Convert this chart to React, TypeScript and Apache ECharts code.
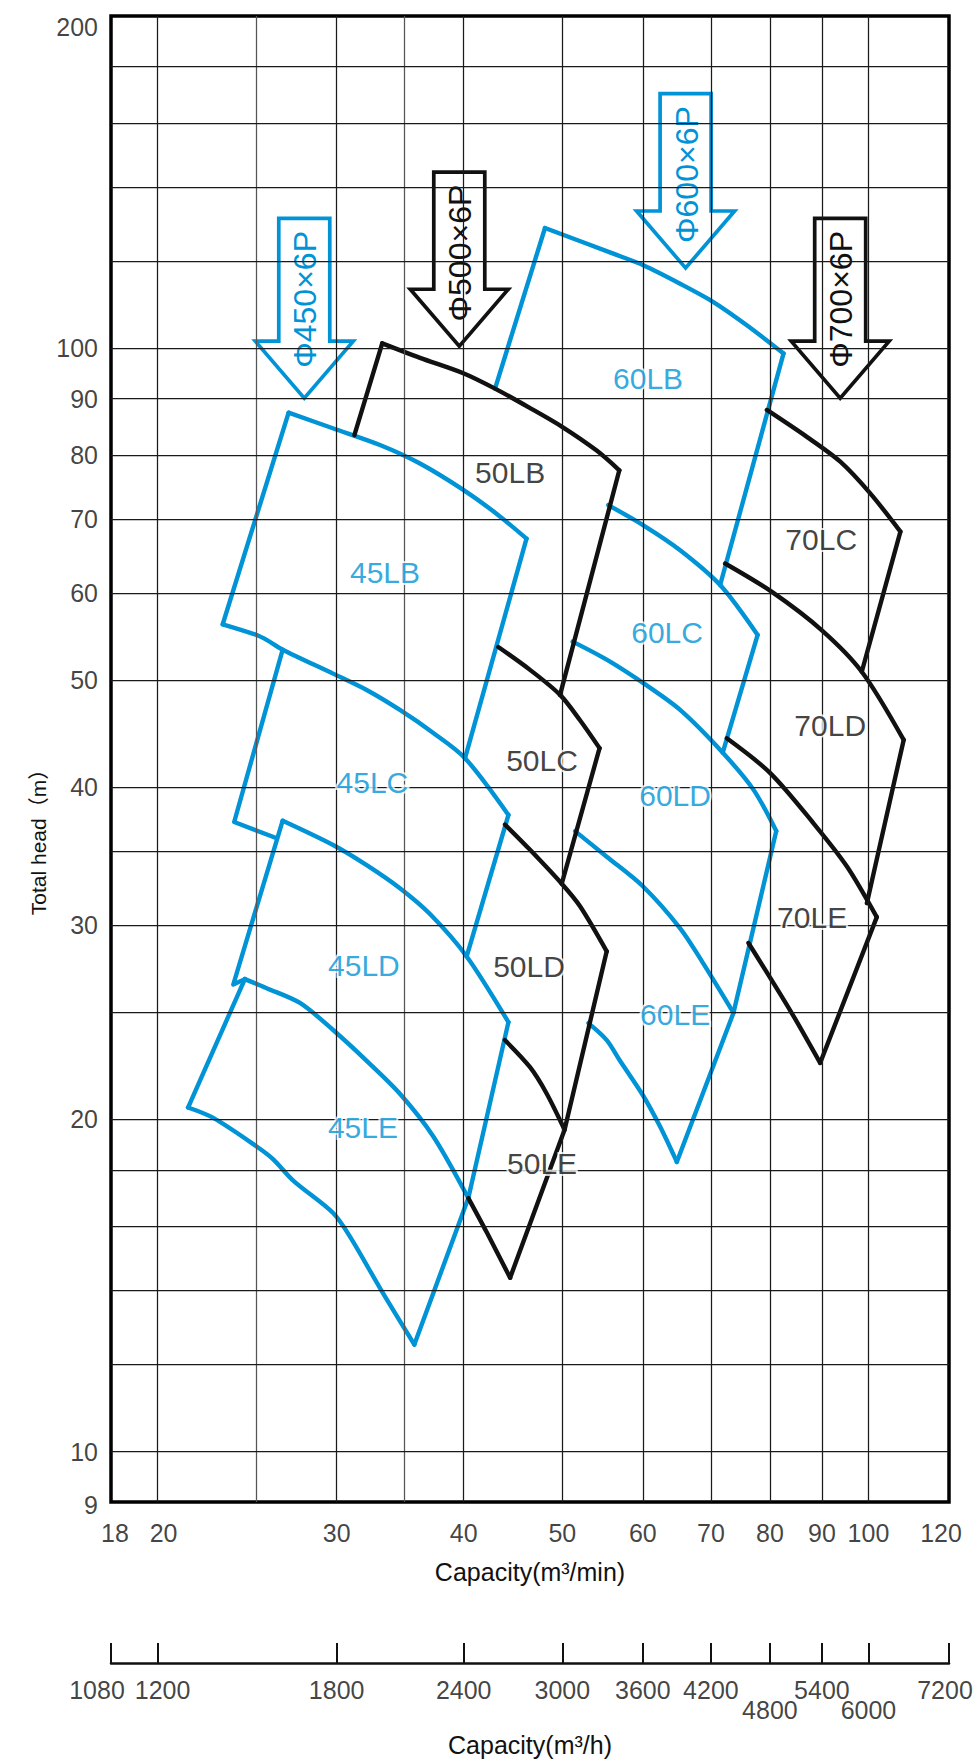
import React, { useEffect, useRef } from 'react';
import * as echarts from 'echarts';

const BLUE = '#0093d6';
const BLACK = '#111111';
const FONT = '"Liberation Sans", Arial, Helvetica, "Noto Sans CJK JP", sans-serif';

// ---- axis values ----
const xTickLabels = [18, 20, 30, 40, 50, 60, 70, 80, 90, 100, 120];
const yTickLabels = [9, 10, 20, 30, 40, 50, 60, 70, 80, 90, 100, 200];
const xGridValues = [20, 25, 30, 35, 40, 50, 60, 70, 80, 90, 100];
const yGridValues = [10, 12, 14, 16, 18, 20, 25, 30, 35, 40, 50, 60, 70, 80, 90, 100, 120, 140, 160, 180];
const hourTickLabels = [1080, 1200, 1800, 2400, 3000, 3600, 4200, 4800, 5400, 6000, 7200];

// ---- 45 series (blue) [capacity m3/min, head m] ----
// head-capacity curves
const c45LBTop = [[26.91, 87.4], [29.74, 84.6], [33.09, 81.7], [36.23, 78.6], [39.96, 74.4], [43.11, 70.75], [46.11, 67.2]];
const c45LCTop = [[23.18, 56.2], [25.03, 54.96], [25.6, 54.4], [26.55, 53.3], [29.76, 50.7], [32.11, 49.0], [34.62, 47.0], [37.34, 44.8], [40.12, 42.5], [44.26, 37.75]];
const c45LDTop = [[26.55, 37.3], [29.76, 35.46], [32.11, 34.0], [34.62, 32.4], [37.06, 30.7], [40.27, 28.1], [44.26, 24.5]];
const c45LETop = [[24.37, 26.8], [25.6, 26.3], [27.61, 25.5], [29.76, 24.1], [32.11, 22.6], [34.62, 21.1], [37.34, 19.3], [40.42, 16.97]];
const c45LEBottom = [[21.43, 20.5], [22.69, 20.06], [25.03, 18.9], [25.99, 18.4], [27.19, 17.6], [29.76, 16.45], [30.92, 15.66], [33.34, 13.9], [35.77, 12.5]];
// boundary lines
const s45LBLeft = [[23.18, 56.2], [26.91, 87.4]];
const s45LBRight = [[46.11, 67.2], [40.12, 42.5]];
const s45LCRight = [[44.26, 37.75], [40.27, 28.1]];
const s45LCLeft = [[26.55, 53.3], [23.79, 37.2], [26.2, 35.96]];
const s45LDLeft = [[24.37, 26.8], [23.74, 26.5], [26.55, 37.3]];
const s45LDRight = [[44.26, 24.5], [40.42, 16.97], [35.77, 12.5]];
const s45LELeft = [[24.37, 26.8], [21.43, 20.5]];

// ---- 50 series (black) ----
const c50LBTop = [[33.26, 101.0], [36.23, 98.0], [39.96, 94.9], [42.94, 91.9], [46.48, 88.25], [49.94, 84.9], [54.05, 80.75], [56.89, 77.5]];
const c50LCTop = [[43.26, 53.6], [46.48, 51.1], [49.75, 48.5], [52.05, 46.0], [54.4, 43.4]];
const c50LDTop = [[43.92, 37.0], [46.48, 35.1], [49.94, 32.7], [52.05, 31.2], [55.29, 28.4]];
const c50LETop = [[43.9, 23.6], [46.48, 22.3], [48.27, 21.1], [50.26, 19.57]];
const c50LEBottom = [[40.42, 16.97], [42.14, 15.8], [44.43, 14.37]];
const s50LBLeft = [[31.23, 83.4], [33.26, 101.0]];
const s50LBRight = [[56.89, 77.5], [49.75, 48.5]];
const s50LCRight = [[54.4, 43.4], [49.94, 32.7]];
const s50LDRight = [[55.29, 28.4], [50.26, 19.57], [44.43, 14.37]];

// ---- 60 series (blue) ----
const c60LBTop = [[48.08, 128.5], [56.12, 121.8], [60.07, 118.9], [65.29, 114.4], [70.4, 110.1], [75.93, 104.9], [82.51, 98.9]];
const c60LCTop = [[55.49, 72.06], [60.07, 69.1], [65.29, 65.6], [71.48, 61.0], [77.81, 54.96]];
const c60LDTop = [[51.18, 54.2], [55.29, 52.2], [60.07, 49.7], [65.29, 47.0], [71.8, 43.05], [77.07, 39.8], [81.16, 36.5]];
const c60LETop = [[51.47, 36.5], [55.29, 34.6], [60.07, 32.5], [65.29, 29.8], [68.62, 27.8], [73.67, 24.98]];
const c60LEBottom = [[53.04, 24.45], [55.29, 23.6], [56.98, 22.6], [60.07, 21.0], [62.39, 19.7], [64.8, 18.3]];
const s60LBLeft = [[42.94, 91.9], [48.08, 128.5]];
const s60LBRight = [[82.51, 98.9], [71.48, 61.0]];
const s60LCRight = [[77.81, 54.96], [71.9, 43.0]];
const s60LDRight = [[81.16, 36.5], [73.67, 24.98], [64.8, 18.3]];

// ---- 70 series (black) ----
const c70LCTop = [[79.45, 87.9], [86.98, 83.1], [93.82, 78.9], [100.4, 73.85], [107.5, 68.2]];
const c70LDTop = [[72.29, 63.8], [80.43, 60.1], [89.99, 55.5], [98.5, 50.9], [108.3, 44.15]];
const c70LETop = [[72.57, 44.3], [80.06, 41.2], [88.3, 37.1], [95.25, 33.9], [101.9, 30.5]];
const c70LEBottom = [[76.21, 28.9], [83.77, 25.1], [89.64, 22.5]];
const s70LCRight = [[107.5, 68.2], [98.5, 50.9]];
const s70LDRight = [[108.3, 44.15], [99.64, 31.4]];
const s70LERight = [[101.9, 30.5], [89.64, 22.5]];

// ---- region labels ----
const regionNames = ['45LB', '45LC', '45LD', '45LE', '50LB', '50LC', '50LD', '50LE', '60LB', '60LC', '60LD', '60LE', '70LC', '70LD', '70LE'];
const regionQ = [33.47, 32.53, 31.91, 31.84, 44.43, 47.76, 46.37, 47.76, 60.72, 63.39, 64.55, 64.55, 89.85, 91.7, 88.03];
const regionH = [62.55, 40.4, 27.6, 19.65, 77.2, 42.25, 27.5, 18.23, 93.9, 55.3, 39.3, 24.87, 67.1, 45.5, 30.5];

// ---- pump size arrows ----
const arrowNames = ['Φ450×6P', 'Φ500×6P', 'Φ600×6P', 'Φ700×6P'];
const arrowQ = [27.88, 39.6, 66.1, 93.8];
const arrowTopH = [131.1, 144.4, 170.1, 131.1];
const arrowTipH = [90.1, 100.4, 118.2, 90.1];

const blueCurves = [c45LBTop, c45LCTop, c45LDTop, c45LETop, c45LEBottom, c60LBTop, c60LCTop, c60LDTop, c60LETop, c60LEBottom];
const blueSides = [s45LBLeft, s45LBRight, s45LCRight, s45LCLeft, s45LDLeft, s45LDRight, s45LELeft, s60LBLeft, s60LBRight, s60LCRight, s60LDRight];
const blackCurves = [c50LBTop, c50LCTop, c50LDTop, c50LETop, c50LEBottom, c70LCTop, c70LDTop, c70LETop, c70LEBottom];
const blackSides = [s50LBLeft, s50LBRight, s50LCRight, s50LDRight, s70LCRight, s70LDRight, s70LERight];

function isBlue(name: string) {
  return name.indexOf('45') >= 0 || name.indexOf('60') >= 0;
}

export default function App() {
  const ref = useRef<HTMLDivElement>(null);

  useEffect(() => {
    const chart = echarts.init(ref.current as HTMLDivElement, null, { renderer: 'svg' });

    const lineSeries = (data: number[][], color: string, smooth: number | boolean) => ({
      type: 'line',
      xAxisIndex: 0,
      yAxisIndex: 0,
      data,
      smooth,
      symbol: 'none',
      showSymbol: false,
      silent: true,
      z: 3,
      animation: false,
      lineStyle: { color, width: 4.4, join: 'round', cap: 'round' },
    });

    const xLabelOffset = (v: number) => (v === 18 ? [4, 0] : v === 20 ? [6, 0] : v === 120 ? [-8, 0] : [0, 0]);

    const option: any = {
      animation: false,
      backgroundColor: '#ffffff',
      grid: [
        { left: 111, top: 16, width: 838, height: 1486, show: true, borderColor: '#000', borderWidth: 3.5, backgroundColor: 'rgba(0,0,0,0)' },
        { left: 111, top: 1643, width: 838, height: 20, show: false },
      ],
      xAxis: [
        {
          type: 'log', logBase: 10, min: 18, max: 120, gridIndex: 0,
          axisLine: { show: false }, axisTick: { show: false }, axisLabel: { show: false }, splitLine: { show: false },
          name: 'Capacity(m³/min)', nameLocation: 'middle', nameGap: 57,
          nameTextStyle: { fontSize: 25, color: BLACK, fontFamily: FONT },
        },
        {
          type: 'log', logBase: 10, min: 1080, max: 7200, gridIndex: 1,
          axisLine: { show: true, onZero: false, lineStyle: { color: BLACK, width: 2.5 } },
          axisTick: { show: false }, axisLabel: { show: false }, splitLine: { show: false },
          name: 'Capacity(m³/h)', nameLocation: 'middle', nameGap: 69,
          nameTextStyle: { fontSize: 25, color: BLACK, fontFamily: FONT },
        },
      ],
      yAxis: [
        {
          type: 'log', logBase: 10, min: 9, max: 200, gridIndex: 0,
          axisLine: { show: false }, axisTick: { show: false }, axisLabel: { show: false }, splitLine: { show: false },
        },
        { type: 'value', min: 0, max: 1, gridIndex: 1, show: false },
      ],
      graphic: [
        {
          type: 'text', x: 38, y: 837, rotation: Math.PI / 2, silent: true,
          style: {
            text: 'Total head（m）', fill: BLACK, fontSize: 21, fontFamily: FONT,
            align: 'center', verticalAlign: 'middle', textAlign: 'center', textVerticalAlign: 'middle',
          },
        },
      ],
      series: [
        // grid lines
        {
          type: 'line', xAxisIndex: 0, yAxisIndex: 0, data: [], silent: true, z: 1, animation: false,
          markLine: {
            silent: true, symbol: 'none', animation: false,
            label: { show: false },
            emphasis: { disabled: true },
            lineStyle: { type: 'solid', color: '#1a1a1a', width: 1.25 },
            data: [
              ...xGridValues.map((v) => ({ xAxis: v, lineStyle: { type: 'solid', color: v === 25 || v === 35 ? '#555' : '#1a1a1a', width: 1.25 } })),
              ...yGridValues.map((v) => ({ yAxis: v, lineStyle: { type: 'solid', color: '#1a1a1a', width: 1.25 } })),
            ],
          },
        },
        // second axis ticks
        {
          type: 'line', xAxisIndex: 1, yAxisIndex: 1, data: [], silent: true, z: 1, animation: false,
          markLine: {
            silent: true, symbol: 'none', animation: false,
            label: { show: false },
            emphasis: { disabled: true },
            lineStyle: { type: 'solid', color: BLACK, width: 2 },
            data: hourTickLabels.map((v) => ({ xAxis: v })),
          },
        },
        ...blueCurves.map((c) => lineSeries(c, BLUE, 0.3)),
        ...blueSides.map((c) => lineSeries(c, BLUE, false)),
        ...blackCurves.map((c) => lineSeries(c, BLACK, 0.3)),
        ...blackSides.map((c) => lineSeries(c, BLACK, false)),
        // arrows
        {
          type: 'custom', coordinateSystem: 'cartesian2d', xAxisIndex: 0, yAxisIndex: 0,
          z: 4, silent: true, clip: false, animation: false,
          data: arrowNames.map((n, i) => [arrowQ[i], arrowTopH[i], arrowTipH[i]]),
          encode: { x: 0, y: [1, 2] },
          renderItem: (params: any, api: any) => {
            const i = params.dataIndex;
            const top = api.coord([api.value(0), api.value(1)]);
            const tip = api.coord([api.value(0), api.value(2)]);
            const cx = top[0];
            const ty = top[1];
            const py = tip[1];
            const sw = 25.5;
            const ww = 49;
            const wy = py - 57;
            const color = isBlue(arrowNames[i]) ? BLUE : BLACK;
            return {
              type: 'group',
              children: [
                {
                  type: 'polygon',
                  shape: { points: [[cx - sw, ty], [cx + sw, ty], [cx + sw, wy], [cx + ww, wy], [cx, py], [cx - ww, wy], [cx - sw, wy]] },
                  style: { fill: '#fff', stroke: color, lineWidth: 3.7, lineJoin: 'miter' },
                },
                {
                  type: 'text', x: cx + 1, y: ty + 81, rotation: Math.PI / 2,
                  style: {
                    text: arrowNames[i], fill: color, fontSize: 32, fontFamily: FONT,
                    align: 'center', verticalAlign: 'middle', textAlign: 'center', textVerticalAlign: 'middle',
                  },
                },
              ],
            };
          },
        },
        // region labels
        {
          type: 'scatter', xAxisIndex: 0, yAxisIndex: 0, symbolSize: 0, silent: true, z: 5, clip: false, animation: false,
          data: regionNames.map((n, i) => ({
            name: n, value: [regionQ[i], regionH[i]],
            label: { color: isBlue(n) ? BLUE : BLACK },
          })),
          label: {
            show: true, position: 'inside', formatter: '{b}', fontSize: 30, fontFamily: FONT,
            textBorderColor: '#fff', textBorderWidth: 4,
          },
        },
        // x tick labels
        {
          type: 'scatter', xAxisIndex: 0, yAxisIndex: 0, symbolSize: 0, silent: true, z: 5, clip: false, animation: false,
          data: xTickLabels.map((v) => ({ value: [v, 9], label: { offset: xLabelOffset(v) } })),
          label: {
            show: true, position: 'bottom', distance: 18, lineHeight: 26,
            formatter: (p: any) => String(p.value[0]), fontSize: 25, color: BLACK, fontFamily: FONT,
          },
        },
        // y tick labels
        {
          type: 'scatter', xAxisIndex: 0, yAxisIndex: 0, symbolSize: 0, silent: true, z: 5, clip: false, animation: false,
          data: yTickLabels.map((v) => ({
            value: [18, v],
            label: { offset: v === 200 ? [0, 11] : v === 9 ? [0, 3] : [0, 0] },
          })),
          label: {
            show: true, position: 'left', distance: 13,
            formatter: (p: any) => String(p.value[1]), fontSize: 25, color: BLACK, fontFamily: FONT,
          },
        },
        // m3/h tick labels
        {
          type: 'scatter', xAxisIndex: 1, yAxisIndex: 1, symbolSize: 0, silent: true, z: 5, clip: false, animation: false,
          data: hourTickLabels.map((v) => ({
            value: [v, 0],
            label: {
              distance: v === 4800 || v === 6000 ? 34 : 14,
              offset: v === 1080 ? [-14, 0] : v === 1200 ? [5, 0] : v === 7200 ? [-4, 0] : [0, 0],
            },
          })),
          label: {
            show: true, position: 'bottom', lineHeight: 26,
            formatter: (p: any) => String(p.value[0]), fontSize: 25, color: BLACK, fontFamily: FONT,
          },
        },
      ],
    };

    chart.setOption(option);
    return () => {
      chart.dispose();
    };
  }, []);

  return <div ref={ref} style={{ position: 'absolute', left: 0, top: 0, width: 979, height: 1761 }} />;
}
